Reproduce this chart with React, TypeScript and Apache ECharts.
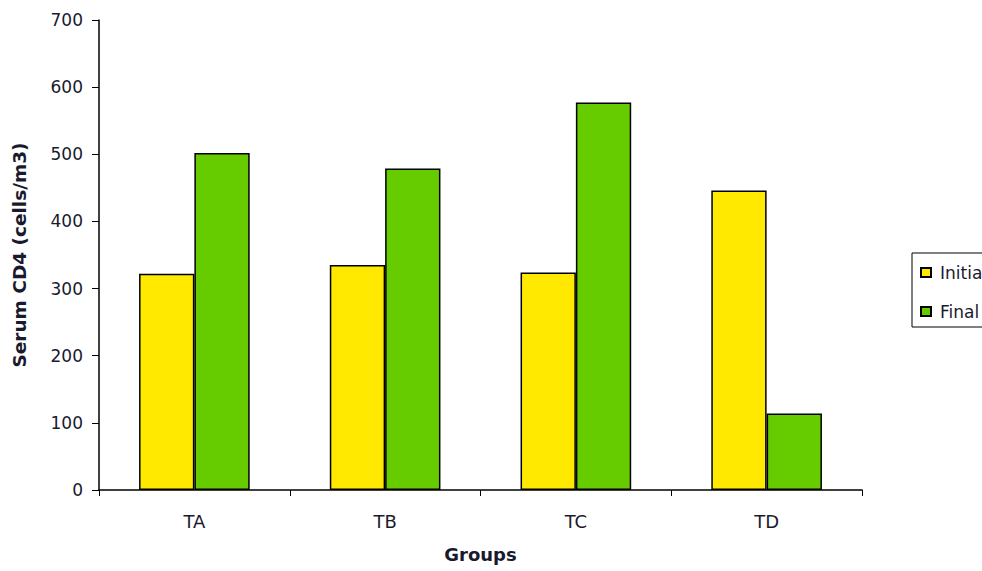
import React, { useEffect, useRef } from "react";
import * as echarts from "echarts";

const groups = ["TA", "TB", "TC", "TD"];
const initialValues = [322, 335, 324, 446];
const finalValues = [502, 479, 577, 114];
const yTicks = [0, 100, 200, 300, 400, 500, 600, 700];

const FONT = "'DejaVu Sans', 'Liberation Sans', Arial, sans-serif";
const TEXT = "#1a1a2e";

export default function App() {
  const ref = useRef<HTMLDivElement>(null);

  useEffect(() => {
    if (!ref.current) return;
    const chart = echarts.init(ref.current, null, { renderer: "svg" });
    chart.setOption({
      animation: false,
      backgroundColor: "#ffffff",
      grid: { left: 99, right: 120, top: 20, bottom: 81, containLabel: false },
      legend: {
        orient: "vertical",
        left: 912,
        top: 253,
        padding: [11, 40, 7, 8],
        borderColor: "#000",
        borderWidth: 1,
        itemWidth: 10,
        itemHeight: 9,
        itemGap: 22,
        icon: "rect",
        textStyle: { fontFamily: FONT, fontSize: 17, color: TEXT, padding: [0, 0, 0, 4] },
        data: ["Initial", "Final"],
      },
      xAxis: {
        type: "category",
        data: groups,
        axisLine: { lineStyle: { color: "#000", width: 1.5 } },
        axisTick: { show: true, length: 6, alignWithLabel: false, lineStyle: { color: "#000" } },
        axisLabel: { fontFamily: FONT, fontSize: 18, color: TEXT, margin: 22 },
        name: "Groups",
        nameLocation: "middle",
        nameGap: 55,
        nameTextStyle: { fontFamily: FONT, fontSize: 18, fontWeight: "bold", color: TEXT },
      },
      yAxis: {
        type: "value",
        min: yTicks[0],
        max: yTicks[yTicks.length - 1],
        interval: 100,
        splitLine: { show: false },
        axisLine: { show: true, lineStyle: { color: "#000", width: 1.5 } },
        axisTick: { show: true, inside: false, length: 7, lineStyle: { color: "#000" } },
        axisLabel: { fontFamily: FONT, fontSize: 17, color: TEXT, margin: 16 },
        name: "Serum CD4 (cells/m3)",
        nameLocation: "middle",
        nameGap: 70,
        nameRotate: 90,
        nameTextStyle: { fontFamily: FONT, fontSize: 18.5, fontWeight: "bold", color: TEXT },
      },
      series: [
        {
          name: "Initial",
          type: "bar",
          data: initialValues,
          barCategoryGap: "42%",
          barGap: "0%",
          itemStyle: { color: "#FFE900", borderColor: "#000", borderWidth: 1.5 },
        },
        {
          name: "Final",
          type: "bar",
          data: finalValues,
          barCategoryGap: "42%",
          barGap: "0%",
          itemStyle: { color: "#66CC00", borderColor: "#000", borderWidth: 1.5 },
        },
      ],
    });
    return () => chart.dispose();
  }, []);

  return <div ref={ref} style={{ width: 982, height: 571, position: "absolute", left: 0, top: 0 }} />;
}
